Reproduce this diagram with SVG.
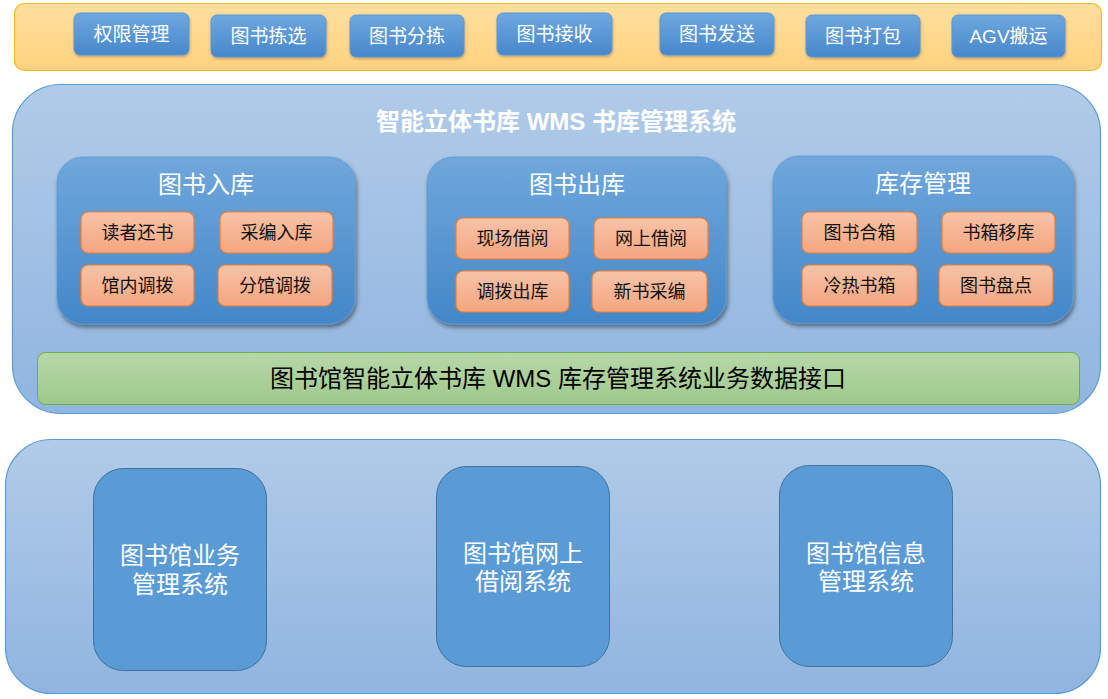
<svg xmlns="http://www.w3.org/2000/svg" width="1108" height="699" viewBox="0 0 1108 699">
<defs>
<linearGradient id="gYel" x1="0" y1="0" x2="0" y2="1"><stop offset="0" stop-color="#ffdf9e"/><stop offset="1" stop-color="#ffd27f"/></linearGradient>
<linearGradient id="gBtn" x1="0" y1="0" x2="0" y2="1"><stop offset="0" stop-color="#6ea8df"/><stop offset="1" stop-color="#4787cb"/></linearGradient>
<linearGradient id="gMain" x1="0" y1="0" x2="0" y2="1"><stop offset="0" stop-color="#b1cbe8"/><stop offset="1" stop-color="#90b5e0"/></linearGradient>
<linearGradient id="gPanel" x1="0" y1="0" x2="0" y2="1"><stop offset="0" stop-color="#70a7dc"/><stop offset="1" stop-color="#4387c8"/></linearGradient>
<linearGradient id="gSub" x1="0" y1="0" x2="0" y2="1"><stop offset="0" stop-color="#f8c3a8"/><stop offset="1" stop-color="#f4a680"/></linearGradient>
<linearGradient id="gGreen" x1="0" y1="0" x2="0" y2="1"><stop offset="0" stop-color="#b8d7a9"/><stop offset="1" stop-color="#9ec98b"/></linearGradient>
<filter id="sh" x="-10%" y="-10%" width="125%" height="130%"><feDropShadow dx="1.5" dy="3" stdDeviation="2.2" flood-color="#000" flood-opacity="0.45"/></filter>
<filter id="shs" x="-10%" y="-10%" width="125%" height="140%"><feDropShadow dx="0.5" dy="1.5" stdDeviation="1" flood-color="#000" flood-opacity="0.25"/></filter>
</defs>
<style>
text{font-family:"Liberation Sans","Noto Sans CJK SC",sans-serif;text-anchor:middle}
.btn{fill:url(#gBtn);stroke:#5a97d4;stroke-width:1;filter:url(#shs)}
.btnt{fill:#fff;font-size:19px}
.panel{fill:url(#gPanel);stroke:#5e9ad6;stroke-width:0.8;filter:url(#sh)}
.pt{fill:#fff;font-size:24px}
.sub{fill:url(#gSub);stroke:#ed7d31;stroke-width:1.2}
.subt{fill:#111;font-size:18px}
.big{fill:url(#gMain);stroke:#5b9bd5;stroke-width:1.2}
.sys{fill:#5b9bd5;stroke:#41719c;stroke-width:1}
.syst{fill:#fff;font-size:24px}
</style>
<g id="top-bar">
<rect x="14.5" y="3.5" width="1087" height="67" rx="10" fill="url(#gYel)" stroke="#f4b923" stroke-width="1.2"/>
</g>
<g id="btn-quanxian"><rect class="btn" x="74" y="13" width="115" height="42" rx="6"/><text class="btnt" x="131.5" y="41">权限管理</text></g>
<g id="btn-jianxuan"><rect class="btn" x="211" y="15" width="115" height="42" rx="6"/><text class="btnt" x="268.5" y="43">图书拣选</text></g>
<g id="btn-fenjian"><rect class="btn" x="350" y="15" width="114" height="42" rx="6"/><text class="btnt" x="407" y="43">图书分拣</text></g>
<g id="btn-jieshou"><rect class="btn" x="497" y="13" width="115" height="42" rx="6"/><text class="btnt" x="554.5" y="41">图书接收</text></g>
<g id="btn-fasong"><rect class="btn" x="660" y="13" width="114" height="42" rx="6"/><text class="btnt" x="717" y="41">图书发送</text></g>
<g id="btn-dabao"><rect class="btn" x="806" y="15" width="114" height="42" rx="6"/><text class="btnt" x="863" y="43">图书打包</text></g>
<g id="btn-agv"><rect class="btn" x="952" y="15" width="113" height="42" rx="6"/><text class="btnt" x="1008.5" y="43">AGV搬运</text></g>

<g id="wms-system">
<rect class="big" x="12.5" y="84.5" width="1088" height="329" rx="48"/>
<text x="556" y="130" fill="#fff" font-size="24" font-weight="bold">智能立体书库 WMS 书库管理系统</text>
</g>
<g id="panel-ruku">
<rect class="panel" x="57" y="157" width="298" height="167" rx="26"/>
<text class="pt" x="206" y="193">图书入库</text>
</g>
<g id="ruku-duzhe"><rect class="sub" x="81" y="212" width="113" height="41" rx="7"/><text class="subt" x="137.5" y="239">读者还书</text></g>
<g id="ruku-caibian"><rect class="sub" x="220" y="212" width="113" height="41" rx="7"/><text class="subt" x="276.5" y="239">采编入库</text></g>
<g id="ruku-guannei"><rect class="sub" x="81" y="265" width="113" height="41" rx="7"/><text class="subt" x="137.5" y="292">馆内调拨</text></g>
<g id="ruku-fenguan"><rect class="sub" x="218" y="265" width="114" height="41" rx="7"/><text class="subt" x="275" y="292">分馆调拨</text></g>

<g id="panel-chuku">
<rect class="panel" x="427" y="157" width="299" height="167" rx="26"/>
<text class="pt" x="577" y="193">图书出库</text>
</g>
<g id="chuku-xianchang"><rect class="sub" x="456" y="218" width="113" height="41" rx="7"/><text class="subt" x="512.5" y="245">现场借阅</text></g>
<g id="chuku-wangshang"><rect class="sub" x="594" y="218" width="114" height="41" rx="7"/><text class="subt" x="651" y="245">网上借阅</text></g>
<g id="chuku-diaobo"><rect class="sub" x="456" y="271" width="113" height="41" rx="7"/><text class="subt" x="512.5" y="298">调拨出库</text></g>
<g id="chuku-xinshu"><rect class="sub" x="592" y="271" width="115" height="41" rx="7"/><text class="subt" x="649.5" y="298">新书采编</text></g>

<g id="panel-kucun">
<rect class="panel" x="773" y="156" width="300" height="167" rx="26"/>
<text class="pt" x="923" y="192">库存管理</text>
</g>
<g id="kucun-hexiang"><rect class="sub" x="802" y="212" width="115" height="41" rx="7"/><text class="subt" x="859.5" y="239">图书合箱</text></g>
<g id="kucun-yiku"><rect class="sub" x="942" y="212" width="113" height="41" rx="7"/><text class="subt" x="998.5" y="239">书箱移库</text></g>
<g id="kucun-lengre"><rect class="sub" x="802" y="265" width="115" height="41" rx="7"/><text class="subt" x="859.5" y="292">冷热书箱</text></g>
<g id="kucun-pandian"><rect class="sub" x="939" y="265" width="114" height="41" rx="7"/><text class="subt" x="996" y="292">图书盘点</text></g>

<g id="data-interface">
<rect x="37.5" y="352.5" width="1042" height="52" rx="8" fill="url(#gGreen)" stroke="#70ad47" stroke-width="1"/>
<text x="558" y="387" fill="#000" font-size="24">图书馆智能立体书库 WMS 库存管理系统业务数据接口</text>
</g>

<g id="library-systems">
<rect class="big" x="5.5" y="439.5" width="1095" height="254" rx="46"/>
</g>
<g id="sys-yewu"><rect class="sys" x="93.5" y="468.5" width="173" height="202" rx="30"/><text class="syst" x="180" y="564">图书馆业务</text><text class="syst" x="180" y="593">管理系统</text></g>
<g id="sys-jieyue"><rect class="sys" x="436.5" y="466.5" width="173" height="200" rx="30"/><text class="syst" x="523" y="562">图书馆网上</text><text class="syst" x="523" y="590">借阅系统</text></g>
<g id="sys-xinxi"><rect class="sys" x="779.5" y="465.5" width="173" height="201" rx="30"/><text class="syst" x="866" y="562">图书馆信息</text><text class="syst" x="866" y="590">管理系统</text></g>
<g id="connectors"/>
</svg>
